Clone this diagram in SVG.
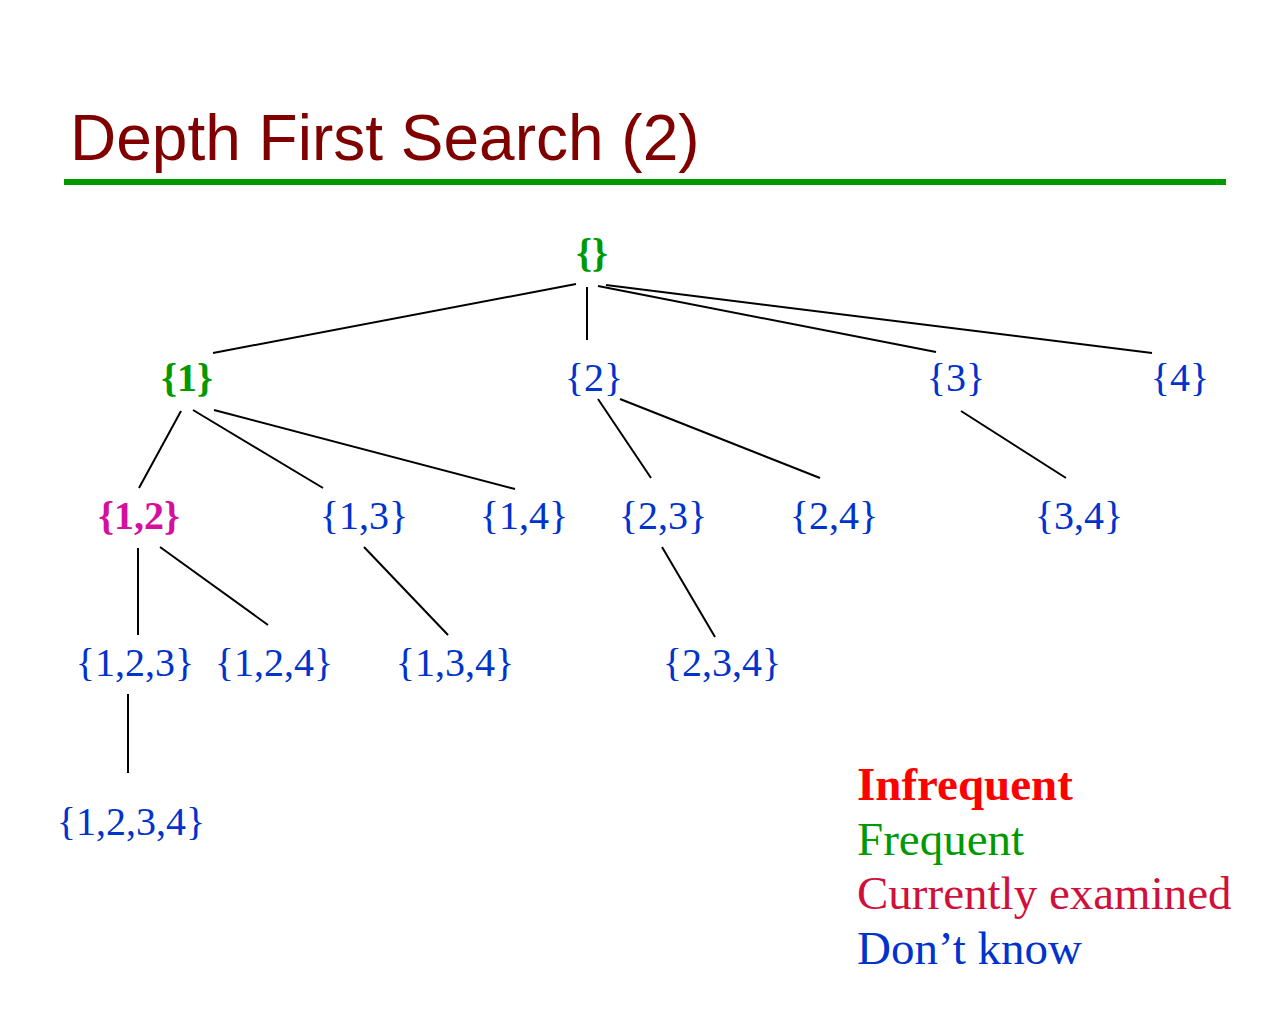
<svg xmlns="http://www.w3.org/2000/svg" width="1280" height="1024" viewBox="0 0 1280 1024">
<style>
.title{font-family:"Liberation Sans",Arial,sans-serif;font-size:64px;fill:#800000}
.n{font-family:"Liberation Serif","Times New Roman",serif;font-size:40px;text-anchor:middle}
.b{font-weight:bold}
.blue{fill:#0033cc}
.green{fill:#009900}
.mag{fill:#d4109c}
.leg{font-family:"Liberation Serif","Times New Roman",serif;font-size:47px}
.e{stroke:#000;stroke-width:2;fill:none}
</style>
<rect width="1280" height="1024" fill="#fff"/>
<text class="title" x="70" y="160">Depth First Search (2)</text>
<rect x="64" y="179" width="1162" height="6" fill="#009900"/>
<g id="connectors">
<line class="e" x1="576" y1="284" x2="213" y2="353"/>
<line class="e" x1="587" y1="287" x2="587" y2="340"/>
<line class="e" x1="598" y1="286" x2="936" y2="352"/>
<line class="e" x1="606" y1="285" x2="1152" y2="353"/>
<line class="e" x1="181" y1="411" x2="139" y2="488"/>
<line class="e" x1="193" y1="410" x2="323" y2="488"/>
<line class="e" x1="214" y1="410" x2="515" y2="489"/>
<line class="e" x1="598" y1="399" x2="651" y2="478"/>
<line class="e" x1="620" y1="399" x2="820" y2="478"/>
<line class="e" x1="961" y1="411" x2="1066" y2="478"/>
<line class="e" x1="138" y1="548" x2="138" y2="635"/>
<line class="e" x1="160" y1="547" x2="268" y2="625"/>
<line class="e" x1="364" y1="547" x2="448" y2="635"/>
<line class="e" x1="662" y1="547" x2="715" y2="637"/>
<line class="e" x1="128" y1="694" x2="128" y2="773"/>
</g>
<g id="n-root"><text class="n b green" x="592" y="266">{}</text></g>
<g id="n-1"><text class="n b green" x="187" y="391">{1}</text></g>
<g id="n-2"><text class="n blue" x="594" y="391">{2}</text></g>
<g id="n-3"><text class="n blue" x="956" y="391">{3}</text></g>
<g id="n-4"><text class="n blue" x="1180" y="391">{4}</text></g>
<g id="n-12"><text class="n b mag" x="139" y="529">{1,2}</text></g>
<g id="n-13"><text class="n blue" x="364" y="529">{1,3}</text></g>
<g id="n-14"><text class="n blue" x="524" y="529">{1,4}</text></g>
<g id="n-23"><text class="n blue" x="663" y="529">{2,3}</text></g>
<g id="n-24"><text class="n blue" x="834" y="529">{2,4}</text></g>
<g id="n-34"><text class="n blue" x="1079" y="529">{3,4}</text></g>
<g id="n-123"><text class="n blue" x="135" y="676">{1,2,3}</text></g>
<g id="n-124"><text class="n blue" x="274" y="676">{1,2,4}</text></g>
<g id="n-134"><text class="n blue" x="455" y="676">{1,3,4}</text></g>
<g id="n-234"><text class="n blue" x="722" y="676">{2,3,4}</text></g>
<g id="n-1234"><text class="n blue" x="131" y="835">{1,2,3,4}</text></g>
<g id="legend">
<text class="leg b" x="857" y="800" fill="#ff0000">Infrequent</text>
<text class="leg" x="857" y="855" fill="#009900">Frequent</text>
<text class="leg" x="857" y="909" fill="#d0103a">Currently examined</text>
<text class="leg" x="857" y="964" fill="#0033cc">Don’t know</text>
</g>
</svg>
